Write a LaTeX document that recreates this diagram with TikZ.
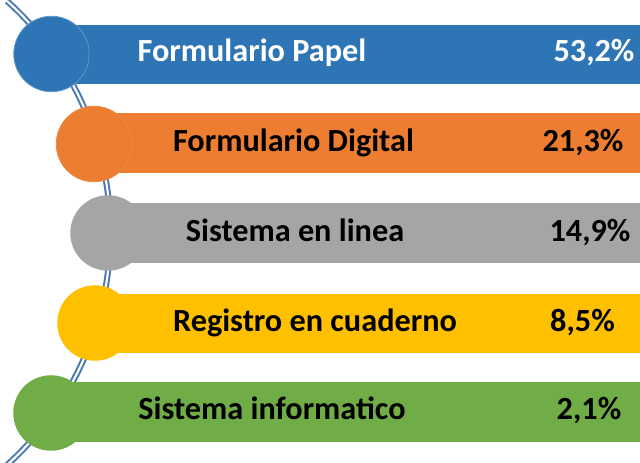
\documentclass[tikz,border=0pt]{standalone}
\usepackage{fontspec}
\setmainfont{Carlito}
\definecolor{cblue}{HTML}{2E75B6}
\definecolor{corange}{HTML}{ED7D31}
\definecolor{cgray}{HTML}{A5A5A5}
\definecolor{cyellow}{HTML}{FFC000}
\definecolor{cgreen}{HTML}{70AD47}
\definecolor{cline}{HTML}{4A78B0}
\tikzset{
  dot/.style={circle, minimum size=75.5*0.75pt, inner sep=0pt, line width=0.6pt},
  lbl/.style={anchor=base, inner sep=0pt, font=\fontsize{24.2}{28}\selectfont\bfseries},
  spine/.style={draw=cline, double=white, double distance=1.6pt, line width=1.5pt}
}
\begin{document}
\begin{tikzpicture}[x=0.75pt,y=-0.75pt]
\useasboundingbox (0,0) rectangle (640,463);
% spine arc
\coordinate (c) at (-201.6,233);
\draw[spine] (c) ++(-48:312) arc[start angle=-48, end angle=48, radius=312];
% bars
\fill[cblue]   (51,25)  rectangle (640,84.5);
\fill[corange] (94,113) rectangle (640,173);
\fill[cgray]   (108,203) rectangle (640,263);
\fill[cyellow] (95,294) rectangle (640,353);
\fill[cgreen]  (51,382) rectangle (640,442);
% circles
\node[dot, fill=cblue, draw=cblue!75!white] (d1) at (51.5,54) {};
\node[dot, fill=corange, draw=corange!92!white] (d2) at (94,144) {};
\node[dot, fill=cgray] (d3) at (108,233) {};
\node[dot, fill=cyellow] (d4) at (95,323) {};
\node[dot, fill=cgreen] (d5) at (51,413) {};
% labels
\node[lbl, text=white] (t1) at (252,62) {Formulario Papel};
\node[lbl, text=white] (p1) at (594,62) {53,2\%};
\node[lbl] (t2) at (293.5,152) {Formulario Digital};
\node[lbl] (p2) at (583,152) {21,3\%};
\node[lbl] (t3) at (295,242) {Sistema en linea};
\node[lbl] (p3) at (590,242) {14,9\%};
\node[lbl] (t4) at (315,332) {Registro en cuaderno};
\node[lbl] (p4) at (582.5,332) {8,5\%};
\node[lbl] (t5) at (272,420) {Sistema informatico};
\node[lbl] (p5) at (589,420) {2,1\%};
\end{tikzpicture}
\end{document}
